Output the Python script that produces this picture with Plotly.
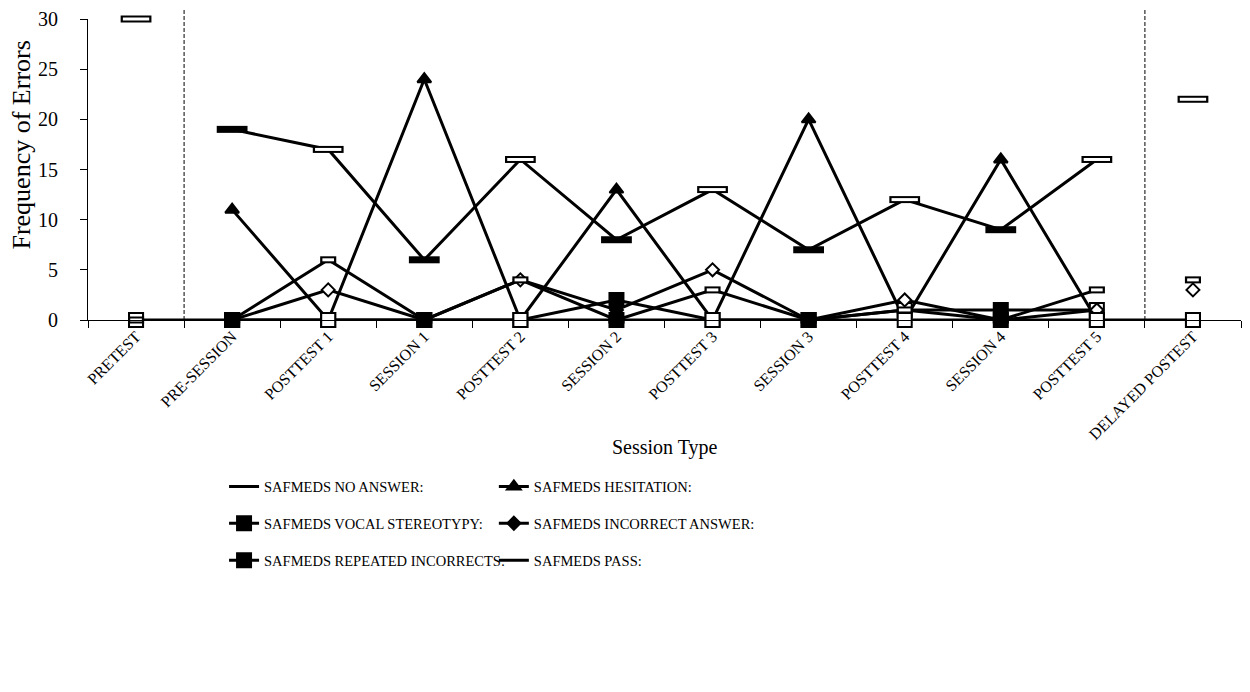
import plotly.graph_objects as go

# session categories along the x axis
sessions = ["PRETEST", "PRE-SESSION", "POSTTEST 1", "SESSION 1", "POSTTEST 2", "SESSION 2",
            "POSTTEST 3", "SESSION 3", "POSTTEST 4", "SESSION 4", "POSTTEST 5", "DELAYED POSTEST"]

# error counts per session
no_answer = [30, 19, 17, 6, 16, 8, 13, 7, 12, 9, 16, 22]
hesitation = [0, 11, 0, 24, 0, 13, 0, 20, 0, 16, 0, 0]
vocal_stereotypy = [0, 0, 0, 0, 0, 2, 0, 0, 1, 1, 1, 0]
incorrect_answer = [0, 0, 3, 0, 4, 1, 5, 0, 2, 0, 1, 3]
repeated_incorrects = [0, 0, 0, 0, 0, 0, 0, 0, 0, 0, 0, 0]
pass_errors = [0, 0, 6, 0, 4, 0, 3, 0, 1, 0, 3, 4]

FONT = "Liberation Serif"
x = list(range(len(sessions)))
is_test = ["TEST" in s for s in sessions]
fills = ["white" if t else "black" for t in is_test]

# pretest and delayed posttest sit outside the phase lines
main = list(range(1, 11))
segments = [[0], main, [11]]

fig = go.Figure()


def add_marker_series(name, y, symbol, size, legend, segs):
    for seg in segs:
        fig.add_trace(go.Scatter(
            x=[x[i] for i in seg],
            y=[y[i] for i in seg],
            mode="lines+markers",
            name=name,
            legendgroup=name,
            legend=legend,
            showlegend=(seg == main),
            line=dict(color="black", width=3),
            marker=dict(symbol=symbol, size=size,
                        color=[fills[i] for i in seg],
                        line=dict(color="black", width=2)),
            cliponaxis=False,
        ))


def add_dash_series(name, y, size, legend):
    # connecting line
    fig.add_trace(go.Scatter(
        x=[x[i] for i in main], y=[y[i] for i in main],
        mode="lines", name=name, legendgroup=name, legend=legend,
        line=dict(color="black", width=3), cliponaxis=False,
    ))
    # black dash outline on every point
    fig.add_trace(go.Scatter(
        x=x, y=y, mode="markers", showlegend=False, legendgroup=name,
        marker=dict(symbol="line-ew", size=size, color="black",
                    line=dict(color="black", width=7)),
        cliponaxis=False,
    ))
    # white centre on test points
    tx = [x[i] for i in x if is_test[i]]
    ty = [y[i] for i in x if is_test[i]]
    fig.add_trace(go.Scatter(
        x=tx, y=ty, mode="markers", showlegend=False, legendgroup=name,
        marker=dict(symbol="line-ew", size=size - 3.2, color="white",
                    line=dict(color="white", width=3)),
        cliponaxis=False,
    ))


add_dash_series("SAFMEDS NO ANSWER:", no_answer, 22, "legend")
add_marker_series("SAFMEDS HESITATION:", hesitation, "triangle-up", 12, "legend2", segments)
add_marker_series("SAFMEDS VOCAL STEREOTYPY:", vocal_stereotypy, "square", 14, "legend", segments)
add_marker_series("SAFMEDS INCORRECT ANSWER:", incorrect_answer, "diamond", 10, "legend2", segments)
add_marker_series("SAFMEDS REPEATED INCORRECTS:", repeated_incorrects, "square", 14, "legend",
                  [[0, 1], main, [10, 11]])
add_dash_series("SAFMEDS PASS:", pass_errors, 11.5, "legend2")

# phase change lines
for xv in [0.5, 10.5]:
    fig.add_shape(type="line", x0=xv, x1=xv, y0=0, y1=1.03, xref="x", yref="paper",
                  line=dict(color="black", width=1, dash="4px,2px"))

legend_style = dict(orientation="v", xanchor="left", yanchor="top", y=-0.50,
                    font=dict(family=FONT, size=14.5, color="black"),
                    bgcolor="rgba(0,0,0,0)", tracegroupgap=15, itemwidth=30)

# page body adds an 8px offset, so the figure is 8px smaller than the window
fig.update_layout(
    width=1242,
    height=684,
    margin=dict(l=80, r=9, t=11, b=372, autoexpand=False),
    plot_bgcolor="white",
    paper_bgcolor="white",
    font=dict(family=FONT, color="black"),
    legend=dict(x=0.118, **legend_style),
    legend2=dict(x=0.352, **legend_style),
    annotations=[
        dict(text="Session Type", x=0.5, y=-0.425, xref="paper", yref="paper",
             showarrow=False, xanchor="center", yanchor="middle",
             font=dict(family=FONT, size=20, color="black")),
        dict(text="Frequency of Errors", x=-0.058, y=0.58, xref="paper", yref="paper",
             showarrow=False, textangle=-90, xanchor="center", yanchor="middle",
             font=dict(family=FONT, size=26, color="black")),
    ],
)

fig.update_xaxes(
    range=[-0.5, 11.5], automargin=False,
    tickmode="array", tickvals=x, ticktext=sessions, tickangle=-45,
    ticks="", tickfont=dict(family=FONT, size=16, color="black"),
    showline=True, linecolor="black", linewidth=1,
    showgrid=False, zeroline=False,
    minor=dict(tickmode="array", tickvals=[i - 0.5 for i in range(13)],
               ticks="outside", ticklen=7, tickcolor="black", showgrid=False),
)
fig.update_yaxes(
    range=[0, 30], dtick=5, automargin=False,
    ticks="outside", ticklen=7, tickcolor="black", ticklabelstandoff=18,
    ticklabeloverflow="allow",
    tickfont=dict(family=FONT, size=20, color="black"),
    showline=True, linecolor="black", linewidth=1,
    showgrid=False, zeroline=False,
)

fig.write_html("out.html")
